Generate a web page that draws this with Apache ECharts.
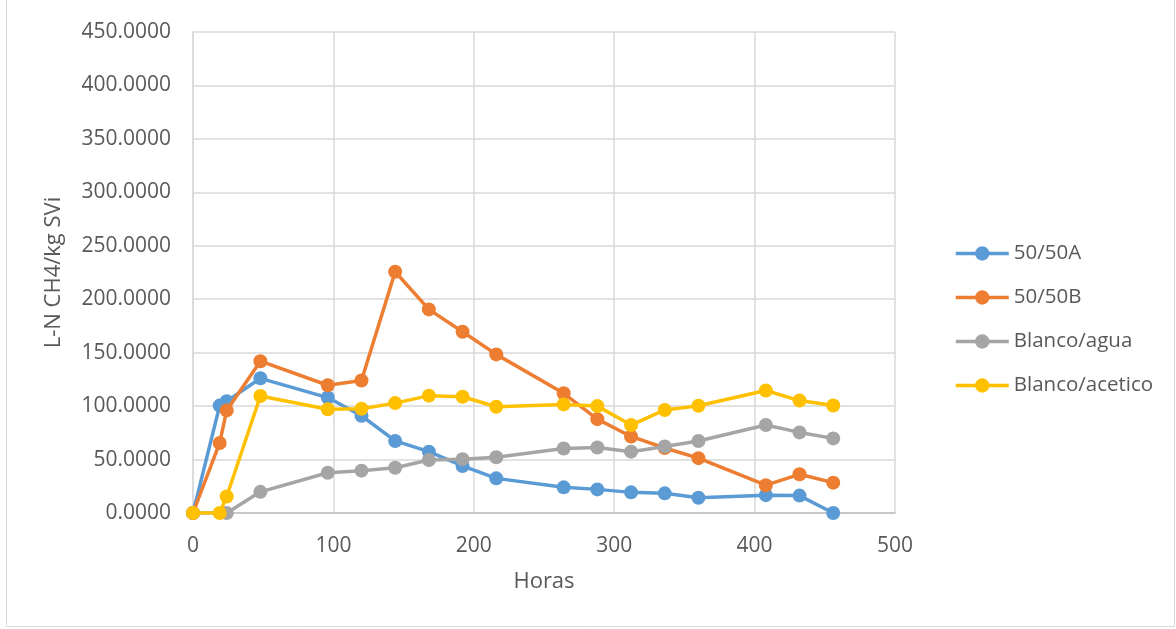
<!DOCTYPE html>
<html>
<head>
<meta charset="utf-8">
<script src="https://cdn.jsdelivr.net/npm/echarts@6/dist/echarts.min.js"></script>
<style>
  html, body { margin: 0; padding: 0; background: #fff; }
  #chart { width: 1176px; height: 629px; }
</style>
</head>
<body>
<div id="chart"></div>
<script>
// Hours of digestion and specific methane yield per series
const horasA = [0, 19, 24, 48, 96, 120, 144, 168, 192, 216, 264, 288, 312, 336, 360, 408, 432, 456];
const serie5050A = [0, 100.5, 104.5, 126, 108, 91, 67.4, 57.4, 44, 32.4, 24, 22.1, 19.3, 18.4, 14.3, 16.7, 16.3, 0];
const serie5050B = [0, 65.5, 96, 142, 119.5, 124, 225.7, 190.5, 169.6, 148.4, 112, 87.8, 71.6, 60.8, 51.3, 26, 36.2, 28.4];
const horasAgua = [0, 24, 48, 96, 120, 144, 168, 192, 216, 264, 288, 312, 336, 360, 408, 432, 456];
const serieAgua = [0, 0, 19.8, 37.7, 39.6, 42.4, 49.6, 50.4, 52.1, 60.3, 61.3, 57.4, 62.2, 67.3, 82.3, 75.4, 69.8];
const serieAcetico = [0, 0, 15.5, 109.4, 97, 97.5, 102.8, 109.8, 108.8, 99.4, 101.6, 100, 82.3, 96.4, 100.4, 114.6, 105.2, 100.6];

const seriesNames = ['50/50A', '50/50B', 'Blanco/agua', 'Blanco/acetico'];
const seriesColors = ['#5B9BD5', '#ED7D31', '#A5A5A5', '#FFC000'];
const yTickLabels = ['0.0000', '50.0000', '100.0000', '150.0000', '200.0000', '250.0000', '300.0000', '350.0000', '400.0000', '450.0000'];

const pair = (xs, ys) => xs.map((x, i) => [x, ys[i]]);
const seriesData = [
  pair(horasA, serie5050A),
  pair(horasA, serie5050B),
  pair(horasAgua, serieAgua),
  pair(horasA, serieAcetico)
];

const FONT = '"Open Sans", sans-serif';
const chart = echarts.init(document.getElementById('chart'), null, { renderer: 'canvas' });

chart.setOption({
  animation: false,
  color: seriesColors,
  textStyle: { fontFamily: FONT },
  grid: { left: 193, right: 281, top: 32, bottom: 116, containLabel: false },
  graphic: [{
    type: 'rect',
    shape: { x: 6.5, y: -2, width: 1168, height: 628.5 },
    style: { fill: 'none', stroke: '#D9D9D9', lineWidth: 1 },
    silent: true
  }],
  legend: {
    orient: 'vertical',
    left: 949,
    top: 238,
    itemGap: 23,
    itemWidth: 53,
    itemHeight: 18,
    data: seriesNames,
    lineStyle: { width: 3.5 },
    textStyle: { color: '#595959', fontSize: 20.5, fontFamily: FONT }
  },
  xAxis: {
    type: 'value',
    min: 0, max: 500, interval: 100,
    name: 'Horas',
    nameLocation: 'middle',
    nameGap: 58,
    nameTextStyle: { color: '#595959', fontSize: 22, fontFamily: FONT },
    axisLine: { show: true, lineStyle: { color: '#BFBFBF', width: 1.5 } },
    axisTick: { show: false },
    axisLabel: { color: '#595959', fontSize: 21, margin: 23, fontFamily: FONT },
    splitLine: { show: true, lineStyle: { color: '#D9D9D9', width: 1.5 } }
  },
  yAxis: {
    type: 'value',
    min: 0, max: 450, interval: 50,
    name: 'L-N CH4/kg SVi',
    nameLocation: 'middle',
    nameGap: 128,
    nameRotate: 90,
    nameTextStyle: { color: '#595959', fontSize: 22, fontFamily: FONT },
    axisLine: { show: true, lineStyle: { color: '#D9D9D9', width: 1.5 } },
    axisTick: { show: false },
    axisLabel: {
      color: '#595959', fontSize: 21, margin: 22, fontFamily: FONT,
      formatter: (v) => yTickLabels[Math.round(v / 50)]
    },
    splitLine: { show: true, lineStyle: { color: '#D9D9D9', width: 1.5 } }
  },
  series: seriesNames.map((name, i) => ({
    name,
    type: 'line',
    data: seriesData[i],
    symbol: 'circle',
    symbolSize: 14,
    showSymbol: true,
    lineStyle: { width: 3.5, color: seriesColors[i] },
    itemStyle: { color: seriesColors[i] },
    z: 2 + i
  }))
});
</script>
</body>
</html>
